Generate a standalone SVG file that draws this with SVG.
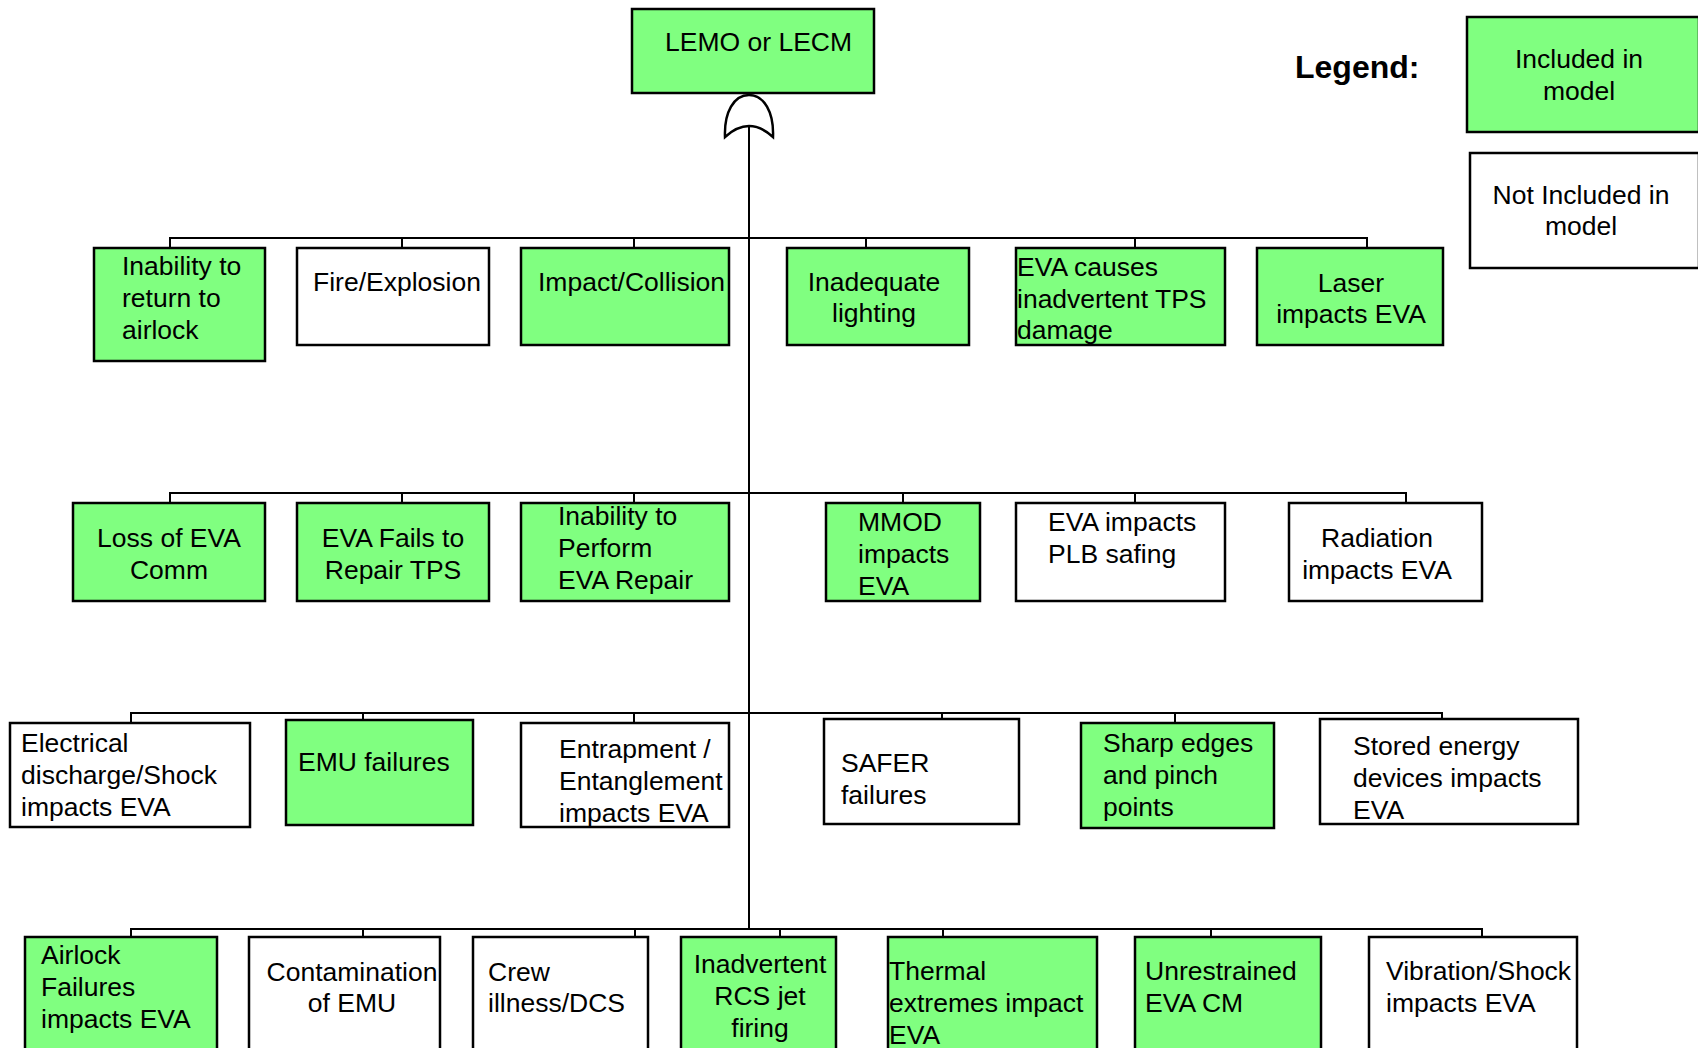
<svg xmlns="http://www.w3.org/2000/svg" width="1698" height="1048" viewBox="0 0 1698 1048">
<style>
.g{fill:#80ff80;stroke:#000;stroke-width:2.5}
.w{fill:#fff;stroke:#000;stroke-width:2.5}
.c{fill:none;stroke:#000;stroke-width:2}
text{font-family:"Liberation Sans",Arial,Helvetica,sans-serif;font-size:26.5px;fill:#000}
.m{text-anchor:middle}
.lg{font-weight:bold;font-size:32px}
</style>
<rect x="0" y="0" width="1698" height="1048" fill="#fff"/>
<g id="connectors">
<path class="c" d="M749,127 V929"/>
<path class="c" d="M170,248 V238 H1367 V248 M402,238 V248 M634,238 V248 M866,238 V248 M1135,238 V248"/>
<path class="c" d="M170,503 V493 H1406 V503 M402,493 V503 M634,493 V503 M903,493 V503 M1135,493 V503"/>
<path class="c" d="M131,723 V713 H1442 V719 M363,713 V720 M634,713 V723 M942,713 V719 M1175,713 V723"/>
<path class="c" d="M131,937 V929 H1482 V937 M363,929 V937 M635,929 V937 M780,929 V937 M943,929 V937 M1211,929 V937"/>
<path id="or-gate" fill="#fff" stroke="#000" stroke-width="2.5" d="M725,137 C724,112 734,95 749,95 C764,95 774,112 773,137 Q749,115 725,137 Z"/>
</g>
<g id="top"><rect class="g" x="632" y="9" width="242" height="84"/><text x="665" y="51">LEMO or LECM</text></g>
<g id="legend"><text class="lg" x="1295" y="78">Legend:</text></g>
<g id="legend-included"><rect class="g" x="1467" y="17" width="232" height="115"/><text class="m" x="1579" y="68">Included in</text><text class="m" x="1579" y="100">model</text></g>
<g id="legend-not"><rect class="w" x="1470" y="153" width="229" height="115"/><text class="m" x="1581" y="204">Not Included in</text><text class="m" x="1581" y="235">model</text></g>

<g id="r1-inability"><rect class="g" x="94" y="248" width="171" height="113"/><text x="122" y="275">Inability to</text><text x="122" y="307">return to</text><text x="122" y="339">airlock</text></g>
<g id="r1-fire"><rect class="w" x="297" y="248" width="192" height="97"/><text x="313" y="291">Fire/Explosion</text></g>
<g id="r1-impact"><rect class="g" x="521" y="248" width="208" height="97"/><text x="538" y="291">Impact/Collision</text></g>
<g id="r1-lighting"><rect class="g" x="787" y="248" width="182" height="97"/><text class="m" x="874" y="291">Inadequate</text><text class="m" x="874" y="322">lighting</text></g>
<g id="r1-tps"><rect class="g" x="1016" y="248" width="209" height="97"/><text x="1017" y="276">EVA causes</text><text x="1017" y="308">inadvertent TPS</text><text x="1017" y="339">damage</text></g>
<g id="r1-laser"><rect class="g" x="1257" y="248" width="186" height="97"/><text class="m" x="1351" y="292">Laser</text><text class="m" x="1351" y="323">impacts EVA</text></g>

<g id="r2-comm"><rect class="g" x="73" y="503" width="192" height="98"/><text class="m" x="169" y="547">Loss of EVA</text><text class="m" x="169" y="579">Comm</text></g>
<g id="r2-repair"><rect class="g" x="297" y="503" width="192" height="98"/><text class="m" x="393" y="547">EVA Fails to</text><text class="m" x="393" y="579">Repair TPS</text></g>
<g id="r2-perform"><rect class="g" x="521" y="503" width="208" height="98"/><text x="558" y="525">Inability to</text><text x="558" y="557">Perform</text><text x="558" y="589">EVA Repair</text></g>
<g id="r2-mmod"><rect class="g" x="826" y="503" width="154" height="98"/><text x="858" y="531">MMOD</text><text x="858" y="563">impacts</text><text x="858" y="595">EVA</text></g>
<g id="r2-plb"><rect class="w" x="1016" y="503" width="209" height="98"/><text x="1048" y="531">EVA impacts</text><text x="1048" y="563">PLB safing</text></g>
<g id="r2-radiation"><rect class="w" x="1289" y="503" width="193" height="98"/><text class="m" x="1377" y="547">Radiation</text><text class="m" x="1377" y="579">impacts EVA</text></g>

<g id="r3-electrical"><rect class="w" x="10" y="723" width="240" height="104"/><text x="21" y="752">Electrical</text><text x="21" y="784">discharge/Shock</text><text x="21" y="816">impacts EVA</text></g>
<g id="r3-emu"><rect class="g" x="286" y="720" width="187" height="105"/><text x="298" y="771">EMU failures</text></g>
<g id="r3-entrapment"><rect class="w" x="521" y="723" width="208" height="104"/><text x="559" y="758">Entrapment /</text><text x="559" y="790">Entanglement</text><text x="559" y="822">impacts EVA</text></g>
<g id="r3-safer"><rect class="w" x="824" y="719" width="195" height="105"/><text x="841" y="772">SAFER</text><text x="841" y="804">failures</text></g>
<g id="r3-sharp"><rect class="g" x="1081" y="723" width="193" height="105"/><text x="1103" y="752">Sharp edges</text><text x="1103" y="784">and pinch</text><text x="1103" y="816">points</text></g>
<g id="r3-stored"><rect class="w" x="1320" y="719" width="258" height="105"/><text x="1353" y="755">Stored energy</text><text x="1353" y="787">devices impacts</text><text x="1353" y="819">EVA</text></g>

<g id="r4-airlock"><rect class="g" x="25" y="937" width="192" height="120"/><text x="41" y="964">Airlock</text><text x="41" y="996">Failures</text><text x="41" y="1028">impacts EVA</text></g>
<g id="r4-contamination"><rect class="w" x="249" y="937" width="191" height="120"/><text class="m" x="352" y="981">Contamination</text><text class="m" x="352" y="1012">of EMU</text></g>
<g id="r4-crew"><rect class="w" x="473" y="937" width="175" height="120"/><text x="488" y="981">Crew</text><text x="488" y="1012">illness/DCS</text></g>
<g id="r4-rcs"><rect class="g" x="681" y="937" width="155" height="120"/><text class="m" x="760" y="973">Inadvertent</text><text class="m" x="760" y="1005">RCS jet</text><text class="m" x="760" y="1037">firing</text></g>
<g id="r4-thermal"><rect class="g" x="888" y="937" width="209" height="120"/><text x="889" y="980">Thermal</text><text x="889" y="1012">extremes impact</text><text x="889" y="1044">EVA</text></g>
<g id="r4-unrestrained"><rect class="g" x="1135" y="937" width="186" height="120"/><text x="1145" y="980">Unrestrained</text><text x="1145" y="1012">EVA CM</text></g>
<g id="r4-vibration"><rect class="w" x="1369" y="937" width="208" height="120"/><text x="1386" y="980">Vibration/Shock</text><text x="1386" y="1012">impacts EVA</text></g>
</svg>
